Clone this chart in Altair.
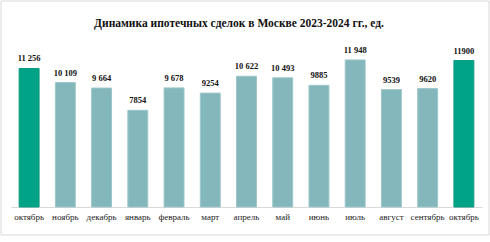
import altair as alt
import pandas as pd

keys = ["октябрь 2023", "ноябрь", "декабрь", "январь", "февраль", "март", "апрель",
        "май", "июнь", "июль", "август", "сентябрь", "октябрь 2024"]
values = [11256, 10109, 9664, 7854, 9678, 9254, 10622, 10493, 9885, 11948, 9539, 9620, 11900]
labels = ["11 256", "10 109", "9 664", "7854", "9 678", "9254", "10 622", "10 493",
          "9885", "11 948", "9539", "9620", "11900"]
highlight = [1, 0, 0, 0, 0, 0, 0, 0, 0, 0, 0, 0, 1]

df = pd.DataFrame({"k": keys, "v": values, "lab": labels, "h": highlight})

W, H = 471, 160
FONT = "'Liberation Serif', 'Times New Roman', serif"

x = alt.X("k:N", sort=keys, scale=alt.Scale(paddingInner=0.45, paddingOuter=0.225),
          axis=alt.Axis(title=None, labelAngle=0, ticks=False, domainColor="#d9d9d9",
                        labelFont=FONT, labelFontSize=9, labelColor="#222222",
                        labelPadding=5, labelExpr="split(datum.label, ' ')[0]"))
y = alt.Y("v:Q", scale=alt.Scale(domain=[0, 13000]), axis=None)

base = alt.Chart(df)

bars = base.mark_bar(strokeWidth=1).encode(
    x=x, y=y,
    color=alt.condition("datum.h == 1", alt.value("#00A386"), alt.value("#84B7BB")),
    stroke=alt.condition("datum.h == 1", alt.value("#0a9a80"), alt.value("#9cc7ca")),
)

text = base.mark_text(font=FONT, fontSize=8.5, fontWeight="bold", dy=-7,
                      baseline="alphabetic", color="#111111").encode(
    x=alt.X("k:N", sort=keys), y=y, text="lab:N")

border = alt.Chart(pd.DataFrame({"a": [0]})).mark_rect(
    fill=None, stroke="#d9d9d9", strokeWidth=1, clip=False).encode(
    x=alt.value(-10), x2=alt.value(478), y=alt.value(-46), y2=alt.value(188))

title = alt.Chart(pd.DataFrame({"a": [0]})).mark_text(
    text="Динамика ипотечных сделок в Москве 2023-2024 гг., ед.",
    font=FONT, fontSize=11.5, fontWeight="bold", color="#111111",
    baseline="alphabetic", align="center").encode(
    x=alt.value(228), y=alt.value(-20))

chart = alt.layer(border, bars, text, title).properties(
    width=W, height=H,
    autosize=alt.AutoSizeParams(type="none"),
    padding={"left": 11, "top": 47, "right": 8, "bottom": 35},
    background="white",
).configure_view(stroke=None)

chart.save("out.html", embed_options={"renderer": "svg", "actions": False})
